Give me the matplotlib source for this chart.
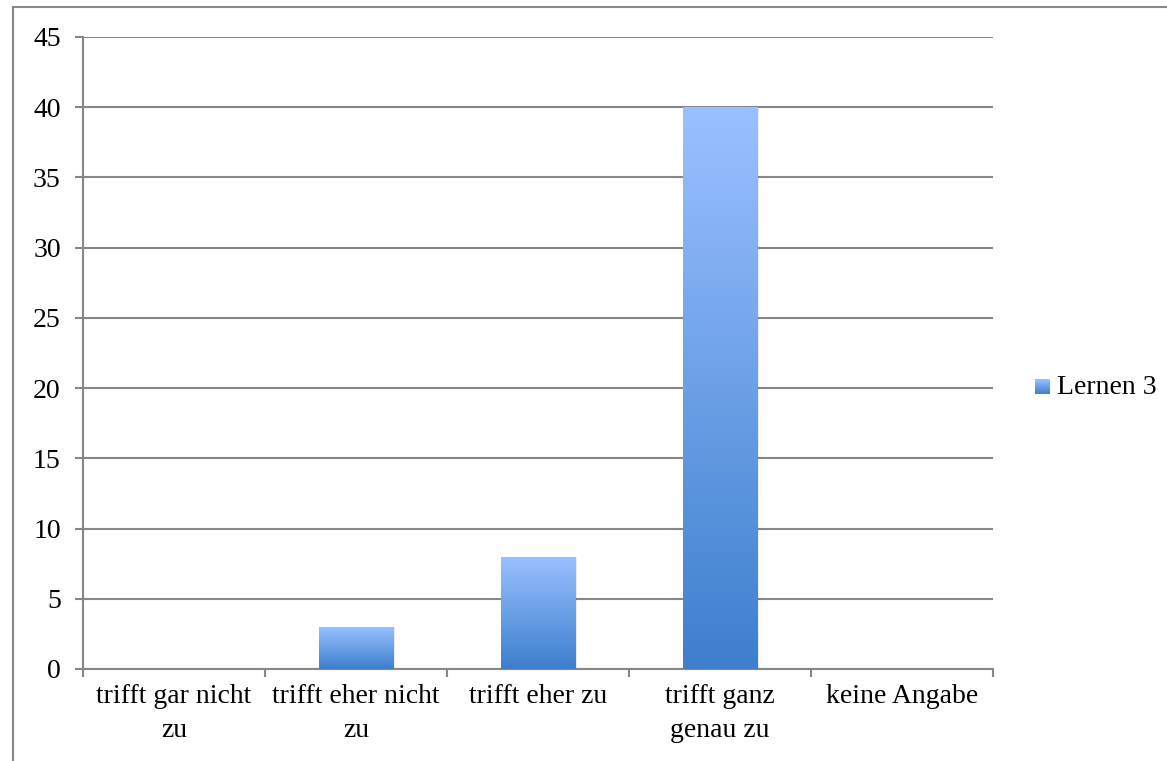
import numpy as np
import matplotlib
matplotlib.use("Agg")
from matplotlib import pyplot as plt
from matplotlib.colors import LinearSegmentedColormap
from matplotlib.lines import Line2D
from matplotlib.patches import Rectangle

categories = ["trifft gar nicht\nzu", "trifft eher nicht\nzu", "trifft eher zu",
              "trifft ganz\ngenau zu", "keine Angabe"]
values = [0, 3, 8, 40, 0]
series_name = "Lernen 3"
yticks = [0, 5, 10, 15, 20, 25, 30, 35, 40, 45]

plt.rcParams['font.family'] = ['Liberation Serif', 'DejaVu Serif']
plt.rcParams['font.size'] = 20

grey = "#878787"
grad = LinearSegmentedColormap.from_list("g", ["#3d7fce", "#9ac1ff"])

fig = plt.figure(figsize=(11.67, 7.61), dpi=100)
ax = fig.add_axes([83/1167, 1 - 669/761, (993-83)/1167, (669-37)/761])

x = np.arange(len(categories)) + 0.5
bars = ax.bar(x, values, width=0.41, facecolor="none", edgecolor="none", zorder=3)
g = np.linspace(0, 1, 256).reshape(-1, 1)
for b, v in zip(bars, values):
    if v <= 0:
        continue
    x0, w = b.get_x(), b.get_width()
    # soft shadow
    ax.add_patch(Rectangle((x0 + 0.012, 0), w, v, facecolor="#000000", alpha=0.08,
                           edgecolor="none", zorder=2))
    im = ax.imshow(g, extent=[x0, x0 + w, 0, v], origin="lower", aspect="auto",
                   cmap=grad, zorder=3)
    im.set_clip_path(b)

ax.set_xlim(0, len(categories))
ax.set_ylim(0, 45)
ax.set_yticks(yticks)
ax.yaxis.grid(True, color=grey, linewidth=1.5, zorder=1)
ax.set_axisbelow(True)

ax.set_xticks(np.arange(len(categories) + 1))
ax.set_xticklabels([])
ax.set_xticks(x, minor=True)
ax.set_xticklabels(categories, minor=True, linespacing=1.45)
ax.tick_params(axis="x", which="minor", length=0, pad=11)
ax.tick_params(axis="both", which="major", direction="out", length=6,
               width=1.5, color=grey)
ax.tick_params(axis="y", pad=10)

for s in ["top", "right"]:
    ax.spines[s].set_visible(False)
for s in ["left", "bottom"]:
    ax.spines[s].set_color(grey)
    ax.spines[s].set_linewidth(1.5)

# legend
leg_sq = np.linspace(0, 1, 64).reshape(-1, 1)
lax = fig.add_axes([1035/1167, 1 - 394/761, 15/1167, 15/761])
lax.imshow(leg_sq, origin="lower", aspect="auto", cmap=grad)
lax.axis("off")
fig.text(1057/1167, 1 - 387/761, series_name, va="center", ha="left")

# outer frame (top and left edges visible)
fig.add_artist(Line2D([13/1167, 1], [1 - 7/761, 1 - 7/761], color=grey, linewidth=1.5,
                      transform=fig.transFigure))
fig.add_artist(Line2D([13/1167, 13/1167], [0, 1 - 7/761], color=grey, linewidth=1.5,
                      transform=fig.transFigure))

fig.savefig("out.png", dpi=100)
